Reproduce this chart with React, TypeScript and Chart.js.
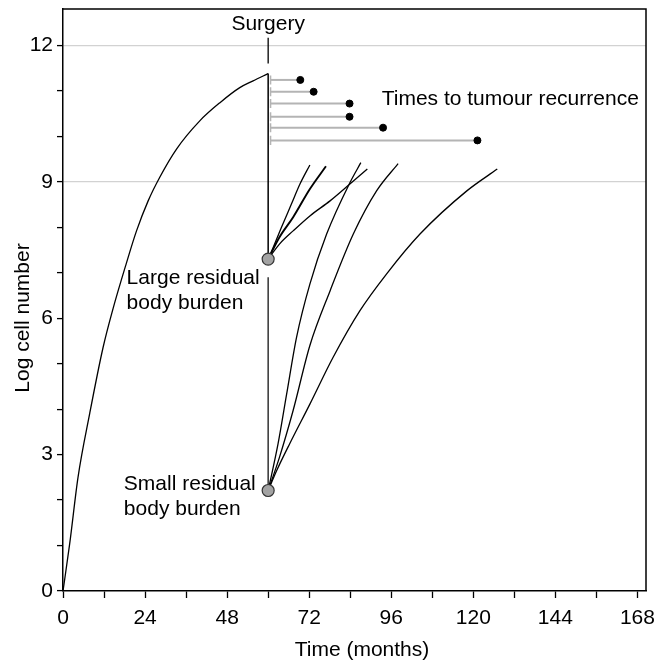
import React, { useEffect, useRef } from 'react';
import { Chart, registerables } from 'chart.js';
Chart.register(...registerables);

// ---- data ----
const mainTime = [0, 1.96, 4.39, 7.8, 11.7, 14.6, 18.5, 21.5, 24.9, 28.3, 33.2, 40.0, 45.9, 51.7, 55.6, 60];
const mainLog = [0, 1.04, 2.5, 3.9, 5.35, 6.2, 7.2, 7.92, 8.58, 9.1, 9.72, 10.34, 10.74, 11.07, 11.22, 11.38];

const surgeryTime = 60;
const largeResidual = 7.3;
const smallResidual = 2.21;
const surgeryTop = 11.38;
const surgeryGapBelowLarge = 6.9;
const surgeryMarkTop = 12.17;
const surgeryMarkBottom = 11.6;

const recurrenceStart = 60.7;
const recurrenceLevels = [11.24, 10.98, 10.72, 10.43, 10.19, 9.91];
const recurrenceTimes = [69.4, 73.3, 83.8, 83.8, 93.6, 121.2];

// regrowth from large residual burden
const largeA_t = [60, 61.5, 63.9, 66.8, 69.3, 72.2];
const largeA_y = [7.3, 7.56, 8.0, 8.51, 8.95, 9.37];
const largeB_t = [60, 63.3, 67.3, 72.2, 76.9];
const largeB_y = [7.3, 7.78, 8.22, 8.84, 9.34];
const largeC_t = [60, 63.3, 67.3, 72.2, 78.1, 83.9, 89.0];
const largeC_y = [7.3, 7.63, 7.92, 8.25, 8.58, 8.95, 9.28];

// regrowth from small residual burden
const smallD_t = [60, 62.9, 65.4, 68.3, 72.2, 77.1, 83.9, 87.1];
const smallD_y = [2.21, 3.24, 4.33, 5.58, 6.75, 7.85, 8.98, 9.42];
const smallE_t = [60, 63.3, 67.3, 72.2, 78.1, 84.9, 91.7, 98.0];
const smallE_y = [2.21, 2.94, 3.97, 5.4, 6.6, 7.85, 8.8, 9.4];
const smallF_t = [60, 62.5, 66.3, 72.2, 79.0, 86.8, 94.6, 104.4, 118.1, 127.0];
const smallF_y = [2.21, 2.65, 3.24, 4.11, 5.14, 6.16, 6.97, 7.85, 8.8, 9.28];

const xTickValues = [0, 12, 24, 36, 48, 60, 72, 84, 96, 108, 120, 132, 144, 156, 168];
const yTickValues = [0, 1, 2, 3, 4, 5, 6, 7, 8, 9, 10, 11, 12];
const yGridValues = [9, 12];

const xTitle = 'Time (months)';
const yTitle = 'Log cell number';

// text annotations: [text, x (months), y (log), align]
const annotations: [string, number, number, CanvasTextAlign][] = [
  ['Surgery', 60, 12.33, 'center'],
  ['Times to tumour recurrence', 93.2, 10.69, 'left'],
  ['Large residual', 18.6, 6.75, 'left'],
  ['body burden', 18.6, 6.2, 'left'],
  ['Small residual', 17.8, 2.22, 'left'],
  ['body burden', 17.8, 1.67, 'left'],
];

const FONT = '"Liberation Sans", Arial, Helvetica, sans-serif';
const FS = 21;

export default function App() {
  const ref = useRef<HTMLCanvasElement>(null);
  useEffect(() => {
    const zip = (xs: number[], ys: number[]) => xs.map((x, i) => ({ x, y: ys[i] }));
    const line = (data: any[], extra: any = {}) => ({
      data,
      showLine: true,
      borderColor: '#000',
      borderWidth: 1.3,
      pointRadius: 0,
      pointHoverRadius: 0,
      fill: false,
      cubicInterpolationMode: 'monotone',
      spanGaps: false,
      ...extra,
    });

    const datasets: any[] = [];
    datasets.push(line(zip(mainTime, mainLog)));
    datasets.push(line([{ x: surgeryTime, y: surgeryTop }, { x: surgeryTime, y: largeResidual }], { cubicInterpolationMode: 'default', tension: 0, borderWidth: 1.5 }));
    datasets.push(line([{ x: surgeryTime, y: surgeryGapBelowLarge }, { x: surgeryTime, y: smallResidual }], { cubicInterpolationMode: 'default', tension: 0, borderWidth: 1.5, borderColor: '#333' }));
    datasets.push(line([{ x: surgeryTime, y: surgeryMarkTop }, { x: surgeryTime, y: surgeryMarkBottom }], { cubicInterpolationMode: 'default', tension: 0, borderWidth: 1.3 }));

    // gray stubs
    const stubs: any[] = [];
    recurrenceLevels.forEach((lv) => {
      stubs.push({ x: recurrenceStart, y: lv + 0.1 }, { x: recurrenceStart, y: lv - 0.1 }, { x: recurrenceStart, y: null });
    });
    datasets.push(line(stubs, { cubicInterpolationMode: 'default', tension: 0, borderColor: '#b4b4b4', borderWidth: 1.5 }));

    recurrenceLevels.forEach((lv, i) => {
      datasets.push(line([{ x: recurrenceStart, y: lv }, { x: recurrenceTimes[i], y: lv }], {
        cubicInterpolationMode: 'default',
        tension: 0,
        borderColor: '#b4b4b4',
        borderWidth: 2,
        pointRadius: [0, 3.5],
        pointBackgroundColor: '#000',
        pointBorderColor: '#000',
        pointBorderWidth: 1,
        order: -1,
      }));
    });

    datasets.push(line(zip(largeA_t, largeA_y)));
    datasets.push(line(zip(largeB_t, largeB_y), { borderWidth: 1.9 }));
    datasets.push(line(zip(largeC_t, largeC_y)));
    datasets.push(line(zip(smallD_t, smallD_y)));
    datasets.push(line(zip(smallE_t, smallE_y)));
    datasets.push(line(zip(smallF_t, smallF_y)));

    datasets.push({
      data: [{ x: surgeryTime, y: largeResidual }, { x: surgeryTime, y: smallResidual }],
      showLine: false,
      pointRadius: 6,
      pointHoverRadius: 6,
      pointBackgroundColor: '#a3a3a3',
      pointBorderColor: '#333',
      pointBorderWidth: 1.2,
      order: -2,
    });

    const textPlugin = {
      id: 'texts',
      afterDraw(chart: any) {
        const { ctx, chartArea, scales } = chart;
        ctx.save();
        // frame top/right
        ctx.strokeStyle = '#000';
        ctx.lineWidth = 1.5;
        ctx.beginPath();
        ctx.moveTo(chartArea.left, chartArea.top);
        ctx.lineTo(chartArea.right, chartArea.top);
        ctx.lineTo(chartArea.right, chartArea.bottom);
        ctx.stroke();

        ctx.fillStyle = '#000';
        ctx.font = `${FS}px ${FONT}`;
        ctx.textBaseline = 'alphabetic';
        annotations.forEach(([t, x, y, al]) => {
          ctx.textAlign = al;
          ctx.fillText(t, scales.x.getPixelForValue(x), scales.y.getPixelForValue(y));
        });
        // axis titles
        ctx.textAlign = 'center';
        ctx.fillText(xTitle, 362, 656);
        ctx.save();
        ctx.translate(29, 318);
        ctx.rotate(-Math.PI / 2);
        ctx.fillText(yTitle, 0, 0);
        ctx.restore();
        ctx.restore();
      },
    };

    const chart = new Chart(ref.current!, {
      type: 'scatter',
      data: { datasets },
      plugins: [textPlugin],
      options: {
        responsive: false,
        animation: false,
        events: [],
        layout: { padding: { left: 0, top: 9, right: 10, bottom: 0 } },
        plugins: { legend: { display: false }, tooltip: { enabled: false } },
        scales: {
          x: {
            type: 'linear',
            min: 0,
            max: 170.5,
            afterBuildTicks: (s: any) => { s.ticks = xTickValues.map((v) => ({ value: v })); },
            afterFit: (s: any) => { s.height = 73; s.paddingLeft = 0; s.paddingRight = 0; },
            ticks: {
              autoSkip: false,
              maxRotation: 0,
              padding: 8,
              color: '#000',
              font: { size: FS, family: FONT },
              callback: (v: any) => (Number(v) % 24 === 0 ? String(v) : ''),
            },
            grid: { drawOnChartArea: false, drawTicks: true, tickLength: 7, tickColor: '#000', tickWidth: 1.3, color: 'rgba(0,0,0,0)' },
            border: { display: true, color: '#000', width: 1.5 },
          },
          y: {
            type: 'linear',
            min: 0,
            max: 12.8,
            afterBuildTicks: (s: any) => { s.ticks = yTickValues.map((v) => ({ value: v })); },
            afterFit: (s: any) => { s.width = 63; s.paddingTop = 0; s.paddingBottom = 0; },
            ticks: {
              autoSkip: false,
              padding: 4,
              color: '#000',
              font: { size: FS, family: FONT },
              callback: (v: any) => (Number(v) % 3 === 0 ? String(v) : ''),
            },
            grid: {
              drawTicks: true,
              tickLength: 6,
              tickColor: '#000',
              tickWidth: 1.3,
              lineWidth: 1.2,
              color: (c: any) => (c.tick && yGridValues.includes(c.tick.value) ? '#d2d2d2' : 'rgba(0,0,0,0)'),
            },
            border: { display: true, color: '#000', width: 1.5 },
          },
        },
      },
    } as any);
    return () => chart.destroy();
  }, []);

  return (
    <div style={{ position: 'fixed', left: 0, top: 0, width: 656, height: 664, background: '#fff' }}>
      <canvas ref={ref} width={656} height={664} style={{ display: 'block' }} />
    </div>
  );
}
